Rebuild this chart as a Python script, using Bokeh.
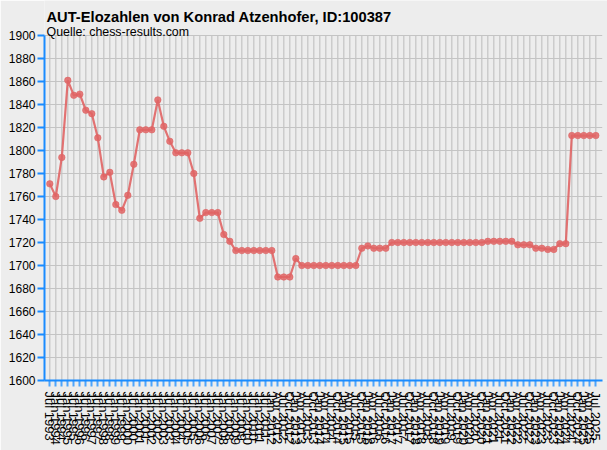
import math
from bokeh.plotting import figure
from bokeh.models import FixedTicker, Range1d, Label
from bokeh.embed import file_html
from bokeh.resources import INLINE

TITLE = "AUT-Elozahlen von Konrad Atzenhofer, ID:100387"
SUBTITLE = "Quelle: chess-results.com"

dates = [
    "Jul 1993",
    "Jan 1994", "Jul 1994", "Jan 1995", "Jul 1995", "Jan 1996", "Jul 1996",
    "Jan 1997", "Jul 1997", "Jan 1998", "Jul 1998", "Jan 1999", "Jul 1999",
    "Jan 2000", "Jul 2000", "Jan 2001", "Jul 2001", "Jan 2002", "Jul 2002",
    "Jan 2003", "Jul 2003", "Jan 2004", "Jul 2004", "Jan 2005", "Jul 2005",
    "Jan 2006", "Jul 2006", "Jan 2007", "Jul 2007", "Jan 2008", "Jul 2008",
    "Jan 2009", "Jul 2009", "Jan 2010", "Jul 2010", "Jan 2011", "Jul 2011",
    "Jan 2012", "Apr 2012", "Jul 2012", "Oct 2012",
    "Jan 2013", "Apr 2013", "Jul 2013", "Oct 2013",
    "Jan 2014", "Apr 2014", "Jul 2014", "Oct 2014",
    "Jan 2015", "Apr 2015", "Jul 2015", "Oct 2015",
    "Jan 2016", "Apr 2016", "Jul 2016", "Oct 2016",
    "Jan 2017", "Apr 2017", "Jul 2017", "Oct 2017",
    "Jan 2018", "Apr 2018", "Jul 2018", "Oct 2018",
    "Jan 2019", "Apr 2019", "Jul 2019", "Oct 2019",
    "Jan 2020", "Apr 2020", "Jul 2020", "Oct 2020",
    "Jan 2021", "Apr 2021", "Jul 2021", "Oct 2021",
    "Jan 2022", "Apr 2022", "Jul 2022", "Oct 2022",
    "Jan 2023", "Apr 2023", "Jul 2023", "Oct 2023",
    "Jan 2024", "Apr 2024", "Jul 2024", "Oct 2024",
    "Jan 2025", "Apr 2025", "Jul 2025",
]

elo = [
    1771, 1760, 1794, 1861, 1848, 1849, 1835, 1832, 1811, 1777,
    1781, 1753, 1748, 1761, 1788, 1818, 1818, 1818, 1844, 1821,
    1808, 1798, 1798, 1798, 1780, 1741, 1746, 1746, 1746, 1727,
    1721, 1713, 1713, 1713, 1713, 1713, 1713, 1713, 1690, 1690,
    1690, 1706, 1700, 1700, 1700, 1700, 1700, 1700, 1700, 1700,
    1700, 1700, 1715, 1717, 1715, 1715, 1715, 1720, 1720, 1720,
    1720, 1720, 1720, 1720, 1720, 1720, 1720, 1720, 1720, 1720,
    1720, 1720, 1720, 1721, 1721, 1721, 1721, 1721, 1718, 1718,
    1718, 1715, 1715, 1714, 1714, 1719, 1719, 1813, 1813, 1813,
    1813, 1813,
]

y_ticks = list(range(1600, 1901, 20))

BG = "#ededed"
BLUE = "#1a8cff"
RED = "#e06464"
GRID = "#c4c4c4"
FONT = "Liberation Sans"

idx = list(range(len(elo)))

# layout (pixels)
W, H = 607, 450
LEFT, BOTTOM = 44, 70
PX_X = 6.0                      # pixels per rating period
PX_Y = 345.0 / 300.0            # pixels per Elo point
x0 = -(49.3 - LEFT) / PX_X
x1 = x0 + (W - LEFT) / PX_X
x_axis_end = x0 + (601.7 - LEFT) / PX_X
y_top = 1900 + 35 / PX_Y        # space above 1900 for titles

p = figure(width=W, height=H,
           x_range=Range1d(x0, x1), y_range=Range1d(1600, y_top),
           output_backend="svg", toolbar_location=None,
           min_border_left=LEFT, min_border_top=0,
           min_border_bottom=BOTTOM, min_border_right=0)
p.background_fill_color = BG
p.border_fill_color = BG
p.outline_line_color = None
p.xgrid.grid_line_color = None
p.ygrid.grid_line_color = None

# grid lines restricted to the 1600..1900 chart area
p.segment(x0=idx, y0=[y_ticks[0]] * len(idx), x1=idx, y1=[y_ticks[-1]] * len(idx),
          line_color=GRID, line_width=1.2)
p.segment(x0=[x0] * len(y_ticks), y0=y_ticks, x1=[x_axis_end] * len(y_ticks), y1=y_ticks,
          line_color=GRID, line_width=1.2)

p.line(idx, elo, line_color=RED, line_width=2.2, line_alpha=0.9)
p.scatter(idx, elo, size=6.5, fill_color=RED, line_color=RED,
          fill_alpha=0.85, line_alpha=0.6)

# axes
p.xaxis.bounds = (x0, x_axis_end)
p.xaxis.ticker = FixedTicker(ticks=idx)
p.xaxis.major_label_overrides = {i: d for i, d in zip(idx, dates)}
p.xaxis.major_label_orientation = -math.pi / 2
p.xaxis.major_label_text_font = FONT
p.xaxis.major_label_text_font_size = "13px"
p.xaxis.major_label_text_color = "black"
p.xaxis.major_label_standoff = 5
p.xaxis.major_tick_out = 6
p.xaxis.major_tick_in = 0
p.xaxis.minor_tick_line_color = None
p.xaxis.axis_line_color = BLUE
p.xaxis.axis_line_width = 2
p.xaxis.major_tick_line_color = BLUE
p.xaxis.major_tick_line_width = 2
p.xaxis.major_tick_line_alpha = 0.75

p.yaxis.bounds = (y_ticks[0], y_ticks[-1])
p.yaxis.ticker = FixedTicker(ticks=y_ticks)
p.yaxis.major_label_text_font = FONT
p.yaxis.major_label_text_font_size = "12px"
p.yaxis.major_label_text_color = "black"
p.yaxis.major_label_standoff = 2
p.yaxis.major_tick_out = 7
p.yaxis.major_tick_in = 0
p.yaxis.minor_tick_line_color = None
p.yaxis.axis_line_color = BLUE
p.yaxis.axis_line_width = 2
p.yaxis.major_tick_line_color = BLUE
p.yaxis.major_tick_line_width = 2

# title and subtitle inside the (invisible) top part of the frame
tx = x0 + (46 - LEFT) / PX_X
p.add_layout(Label(x=tx, y=1900 + (35 - 16) / PX_Y, text=TITLE,
                   text_font=FONT, text_font_style="bold",
                   text_font_size="14.7px", text_color="black",
                   text_baseline="alphabetic"))
p.add_layout(Label(x=tx, y=1900 + (35 - 31.7) / PX_Y, text=SUBTITLE,
                   text_font=FONT, text_font_size="12.4px",
                   text_color="black", text_baseline="alphabetic"))

open("out.html", "w").write(file_html(p, INLINE))
